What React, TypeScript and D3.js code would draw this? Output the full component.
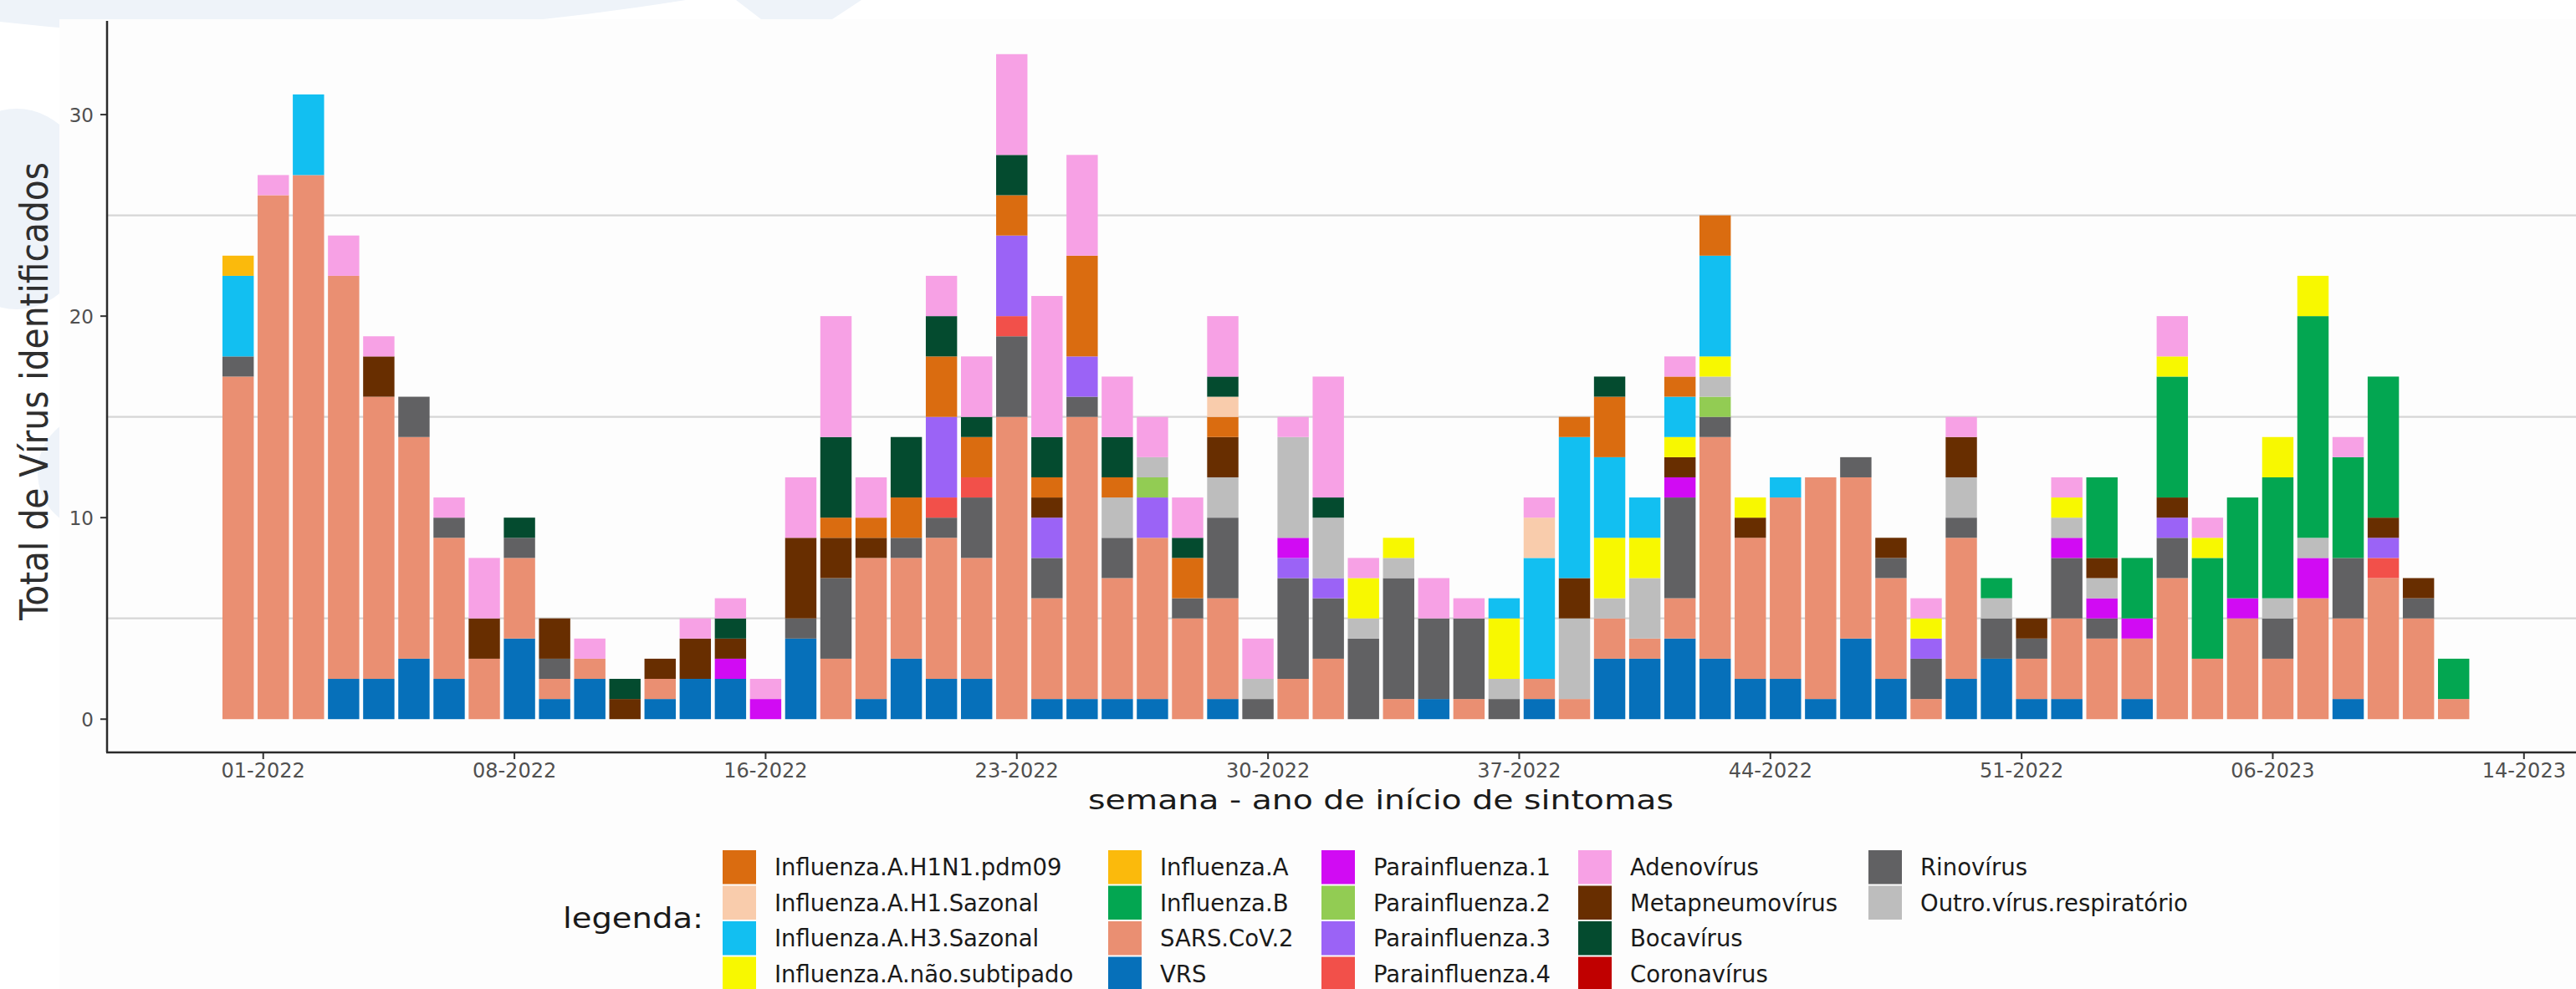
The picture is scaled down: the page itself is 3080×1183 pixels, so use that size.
import * as d3 from 'd3';
import { useEffect, useRef } from 'react';

// epidemiological weeks shown as bars
const weeks = [
  "01-2022", "02-2022", "03-2022", "04-2022", "05-2022", "06-2022", "07-2022", "08-2022",
  "09-2022", "10-2022", "11-2022", "12-2022", "13-2022", "14-2022", "15-2022", "16-2022",
  "17-2022", "18-2022", "19-2022", "20-2022", "21-2022", "22-2022", "23-2022", "24-2022",
  "25-2022", "26-2022", "27-2022", "28-2022", "29-2022", "30-2022", "31-2022", "32-2022",
  "33-2022", "34-2022", "35-2022", "36-2022", "37-2022", "38-2022", "39-2022", "40-2022",
  "41-2022", "42-2022", "43-2022", "44-2022", "45-2022", "46-2022", "47-2022", "48-2022",
  "49-2022", "50-2022", "51-2022", "52-2022", "01-2023", "02-2023", "03-2023", "04-2023",
  "05-2023", "06-2023", "07-2023", "08-2023", "09-2023", "10-2023", "11-2023", "12-2023",
];
const firstWeekStart = "2021-12-27";

const tickDates = [
  "2022-01-01", "2022-02-20", "2022-04-11", "2022-05-31", "2022-07-20",
  "2022-09-08", "2022-10-28", "2022-12-17", "2023-02-05", "2023-03-27",
];
const tickLabels = ["01-2022", "08-2022", "16-2022", "23-2022", "30-2022", "37-2022", "44-2022", "51-2022", "06-2023", "14-2023"];
const yTicks = [0, 10, 20, 30];
const yGrid = [5, 15, 25];

// counts per week, one array per virus
const VRS = [
  0, 0, 0, 2, 2, 3, 2, 0, 4, 1, 2, 0, 1, 2, 2, 0,
  4, 0, 1, 3, 2, 2, 0, 1, 1, 1, 1, 0, 1, 0, 0, 0,
  0, 0, 1, 0, 0, 1, 0, 3, 3, 4, 3, 2, 2, 1, 4, 2,
  0, 2, 3, 1, 1, 0, 1, 0, 0, 0, 0, 0, 1, 0, 0, 0,
];
const SARS = [
  17, 26, 27, 20, 14, 11, 7, 3, 4, 1, 1, 0, 1, 0, 0, 0,
  0, 3, 7, 5, 7, 6, 15, 5, 14, 6, 8, 5, 5, 0, 2, 3,
  0, 1, 0, 1, 0, 1, 1, 2, 1, 2, 11, 7, 9, 11, 8, 5,
  1, 7, 0, 2, 4, 4, 3, 7, 3, 5, 3, 6, 4, 7, 5, 1,
];
const Rino = [
  1, 0, 0, 0, 0, 2, 1, 0, 1, 1, 0, 0, 0, 0, 0, 0,
  1, 4, 0, 1, 1, 3, 4, 2, 1, 2, 0, 1, 4, 1, 5, 3,
  4, 6, 4, 4, 1, 0, 0, 0, 0, 5, 1, 0, 0, 0, 1, 1,
  2, 1, 2, 1, 3, 1, 0, 2, 0, 0, 2, 0, 3, 0, 1, 0,
];
const Para4 = [
  0, 0, 0, 0, 0, 0, 0, 0, 0, 0, 0, 0, 0, 0, 0, 0,
  0, 0, 0, 0, 1, 1, 1, 0, 0, 0, 0, 0, 0, 0, 0, 0,
  0, 0, 0, 0, 0, 0, 0, 0, 0, 0, 0, 0, 0, 0, 0, 0,
  0, 0, 0, 0, 0, 0, 0, 0, 0, 0, 0, 0, 0, 1, 0, 0,
];
const Para3 = [
  0, 0, 0, 0, 0, 0, 0, 0, 0, 0, 0, 0, 0, 0, 0, 0,
  0, 0, 0, 0, 4, 0, 4, 2, 2, 0, 2, 0, 0, 0, 1, 1,
  0, 0, 0, 0, 0, 0, 0, 0, 0, 0, 0, 0, 0, 0, 0, 0,
  1, 0, 0, 0, 0, 0, 0, 1, 0, 0, 0, 0, 0, 1, 0, 0,
];
const Para2 = [
  0, 0, 0, 0, 0, 0, 0, 0, 0, 0, 0, 0, 0, 0, 0, 0,
  0, 0, 0, 0, 0, 0, 0, 0, 0, 0, 1, 0, 0, 0, 0, 0,
  0, 0, 0, 0, 0, 0, 0, 0, 0, 0, 1, 0, 0, 0, 0, 0,
  0, 0, 0, 0, 0, 0, 0, 0, 0, 0, 0, 0, 0, 0, 0, 0,
];
const Para1 = [
  0, 0, 0, 0, 0, 0, 0, 0, 0, 0, 0, 0, 0, 0, 1, 1,
  0, 0, 0, 0, 0, 0, 0, 0, 0, 0, 0, 0, 0, 0, 1, 0,
  0, 0, 0, 0, 0, 0, 0, 0, 0, 1, 0, 0, 0, 0, 0, 0,
  0, 0, 0, 0, 1, 1, 1, 0, 0, 1, 0, 2, 0, 0, 0, 0,
];
const Outro = [
  0, 0, 0, 0, 0, 0, 0, 0, 0, 0, 0, 0, 0, 0, 0, 0,
  0, 0, 0, 0, 0, 0, 0, 0, 0, 2, 1, 0, 2, 1, 5, 3,
  1, 1, 0, 0, 1, 0, 4, 1, 3, 0, 1, 0, 0, 0, 0, 0,
  0, 2, 1, 0, 1, 1, 0, 0, 0, 0, 1, 1, 0, 0, 0, 0,
];
const Meta = [
  0, 0, 0, 0, 2, 0, 0, 2, 0, 2, 0, 1, 1, 2, 1, 0,
  4, 2, 1, 0, 0, 0, 0, 1, 0, 0, 0, 0, 2, 0, 0, 0,
  0, 0, 0, 0, 0, 0, 2, 0, 0, 1, 0, 1, 0, 0, 0, 1,
  0, 2, 0, 1, 0, 1, 0, 1, 0, 0, 0, 0, 0, 1, 1, 0,
];
const FluB = [
  0, 0, 0, 0, 0, 0, 0, 0, 0, 0, 0, 0, 0, 0, 0, 0,
  0, 0, 0, 0, 0, 0, 0, 0, 0, 0, 0, 0, 0, 0, 0, 0,
  0, 0, 0, 0, 0, 0, 0, 0, 0, 0, 0, 0, 0, 0, 0, 0,
  0, 0, 1, 0, 0, 4, 3, 6, 5, 5, 6, 11, 5, 7, 0, 2,
];
const NaoSub = [
  0, 0, 0, 0, 0, 0, 0, 0, 0, 0, 0, 0, 0, 0, 0, 0,
  0, 0, 0, 0, 0, 0, 0, 0, 0, 0, 0, 0, 0, 0, 0, 0,
  2, 1, 0, 0, 3, 0, 0, 3, 2, 1, 1, 1, 0, 0, 0, 0,
  1, 0, 0, 0, 1, 0, 0, 1, 1, 0, 2, 2, 0, 0, 0, 0,
];
const H3 = [
  4, 0, 4, 0, 0, 0, 0, 0, 0, 0, 0, 0, 0, 0, 0, 0,
  0, 0, 0, 0, 0, 0, 0, 0, 0, 0, 0, 0, 0, 0, 0, 0,
  0, 0, 0, 0, 1, 6, 7, 4, 2, 2, 5, 0, 1, 0, 0, 0,
  0, 0, 0, 0, 0, 0, 0, 0, 0, 0, 0, 0, 0, 0, 0, 0,
];
const H1N1 = [
  0, 0, 0, 0, 0, 0, 0, 0, 0, 0, 0, 0, 0, 0, 0, 0,
  0, 1, 1, 2, 3, 2, 2, 1, 5, 1, 0, 2, 1, 0, 0, 0,
  0, 0, 0, 0, 0, 0, 1, 3, 0, 1, 2, 0, 0, 0, 0, 0,
  0, 0, 0, 0, 0, 0, 0, 0, 0, 0, 0, 0, 0, 0, 0, 0,
];
const H1Saz = [
  0, 0, 0, 0, 0, 0, 0, 0, 0, 0, 0, 0, 0, 0, 0, 0,
  0, 0, 0, 0, 0, 0, 0, 0, 0, 0, 0, 0, 1, 0, 0, 0,
  0, 0, 0, 0, 0, 2, 0, 0, 0, 0, 0, 0, 0, 0, 0, 0,
  0, 0, 0, 0, 0, 0, 0, 0, 0, 0, 0, 0, 0, 0, 0, 0,
];
const FluA = [
  1, 0, 0, 0, 0, 0, 0, 0, 0, 0, 0, 0, 0, 0, 0, 0,
  0, 0, 0, 0, 0, 0, 0, 0, 0, 0, 0, 0, 0, 0, 0, 0,
  0, 0, 0, 0, 0, 0, 0, 0, 0, 0, 0, 0, 0, 0, 0, 0,
  0, 0, 0, 0, 0, 0, 0, 0, 0, 0, 0, 0, 0, 0, 0, 0,
];
const Corona = [
  0, 0, 0, 0, 0, 0, 0, 0, 0, 0, 0, 0, 0, 0, 0, 0,
  0, 0, 0, 0, 0, 0, 0, 0, 0, 0, 0, 0, 0, 0, 0, 0,
  0, 0, 0, 0, 0, 0, 0, 0, 0, 0, 0, 0, 0, 0, 0, 0,
  0, 0, 0, 0, 0, 0, 0, 0, 0, 0, 0, 0, 0, 0, 0, 0,
];
const Boca = [
  0, 0, 0, 0, 0, 0, 0, 0, 1, 0, 0, 1, 0, 0, 1, 0,
  0, 4, 0, 3, 2, 1, 2, 2, 0, 2, 0, 1, 1, 0, 0, 1,
  0, 0, 0, 0, 0, 0, 0, 1, 0, 0, 0, 0, 0, 0, 0, 0,
  0, 0, 0, 0, 0, 0, 0, 0, 0, 0, 0, 0, 0, 0, 0, 0,
];
const Adeno = [
  0, 1, 0, 2, 1, 0, 1, 3, 0, 0, 1, 0, 0, 1, 1, 1,
  3, 6, 2, 0, 2, 3, 5, 7, 5, 3, 2, 2, 3, 2, 1, 6,
  1, 0, 2, 1, 0, 1, 0, 0, 0, 1, 0, 0, 0, 0, 0, 0,
  1, 1, 0, 0, 1, 0, 0, 2, 1, 0, 0, 0, 1, 0, 0, 0,
];

// bottom -> top stacking order
const stackOrder = [
  "VRS", "SARS.CoV.2", "Rinovírus", "Parainfluenza.4", "Parainfluenza.3", "Parainfluenza.2",
  "Parainfluenza.1", "Outro.vírus.respiratório", "Metapneumovírus", "Influenza.B",
  "Influenza.A.não.subtipado", "Influenza.A.H3.Sazonal", "Influenza.A.H1N1.pdm09",
  "Influenza.A.H1.Sazonal", "Influenza.A", "Coronavírus", "Bocavírus", "Adenovírus",
];
const seriesValues: Record<string, number[]> = {
  "VRS": VRS, "SARS.CoV.2": SARS, "Rinovírus": Rino, "Parainfluenza.4": Para4,
  "Parainfluenza.3": Para3, "Parainfluenza.2": Para2, "Parainfluenza.1": Para1,
  "Outro.vírus.respiratório": Outro, "Metapneumovírus": Meta, "Influenza.B": FluB,
  "Influenza.A.não.subtipado": NaoSub, "Influenza.A.H3.Sazonal": H3,
  "Influenza.A.H1N1.pdm09": H1N1, "Influenza.A.H1.Sazonal": H1Saz, "Influenza.A": FluA,
  "Coronavírus": Corona, "Bocavírus": Boca, "Adenovírus": Adeno,
};
const legendOrder = [
  "Influenza.A.H1N1.pdm09", "Influenza.A.H1.Sazonal", "Influenza.A.H3.Sazonal", "Influenza.A.não.subtipado",
  "Influenza.A", "Influenza.B", "SARS.CoV.2", "VRS",
  "Parainfluenza.1", "Parainfluenza.2", "Parainfluenza.3", "Parainfluenza.4",
  "Adenovírus", "Metapneumovírus", "Bocavírus", "Coronavírus",
  "Rinovírus", "Outro.vírus.respiratório",
];
const colors: Record<string, string> = {
  "Influenza.A.H1N1.pdm09": "#DA6C10",
  "Influenza.A.H1.Sazonal": "#F9CCAC",
  "Influenza.A.H3.Sazonal": "#12BFF1",
  "Influenza.A.não.subtipado": "#F8F800",
  "Influenza.A": "#FBBA0C",
  "Influenza.B": "#03A651",
  "SARS.CoV.2": "#EA8F72",
  "VRS": "#0670BA",
  "Parainfluenza.1": "#D10BF3",
  "Parainfluenza.2": "#92CC53",
  "Parainfluenza.3": "#9B63F6",
  "Parainfluenza.4": "#F2504A",
  "Adenovírus": "#F7A1E5",
  "Metapneumovírus": "#682E00",
  "Bocavírus": "#044B2F",
  "Coronavírus": "#C00000",
  "Rinovírus": "#616163",
  "Outro.vírus.respiratório": "#BDBDBD",
};

export default function App() {
  const ref = useRef<SVGSVGElement | null>(null);

  useEffect(() => {
    const svg = d3.select(ref.current);
    const width = 3080;
    const height = 1183;
    const panel = { left: 128, top: 25, bottom: 900, right: 3080 };

    svg.selectAll("*").remove();
    svg.attr("width", width).attr("height", height);

    // slide background with faint decorations, then the plot image
    svg.append("rect").attr("width", width).attr("height", height).attr("fill", "#ffffff");
    const deco = svg.append("g").attr("fill", "#eef3f9");
    deco.append("path").attr("d", "M0,0 L0,26 Q380,70 820,0 Z");
    deco.append("path").attr("d", "M880,0 L1030,0 L995,23 L910,23 Z");
    deco.append("ellipse").attr("cx", 20).attr("cy", 250).attr("rx", 95).attr("ry", 120);
    deco.append("circle").attr("cx", 115).attr("cy", 565).attr("r", 70);
    svg.append("rect").attr("x", 71).attr("y", 23).attr("width", width - 71).attr("height", height - 23).attr("fill", "#fdfdfd");

    const first = d3.utcParse("%Y-%m-%d")(firstWeekStart)!;
    const weekDates = weeks.map((_, i) => d3.utcDay.offset(first, 7 * i));

    const table = weeks.map((w, i) => {
      const row: any = { week: w, date: weekDates[i] };
      stackOrder.forEach(k => { row[k] = seriesValues[k][i]; });
      return row;
    });
    const stacked = d3.stack<any>().keys(stackOrder)(table);
    const ymax = d3.max(table, r => d3.sum(stackOrder, k => r[k]))!;

    const x = d3.scaleUtc()
      .domain([weekDates[0], weekDates[weekDates.length - 1]])
      .range([284.7, 2933.7]);
    const pitch = x(weekDates[1]) - x(weekDates[0]);
    const bw = pitch * 0.89;

    const pad = ymax * 0.05;
    const y = d3.scaleLinear()
      .domain([-pad, ymax + pad])
      .range([panel.bottom, panel.top]);

    // grid
    svg.append("g")
      .selectAll("line")
      .data(yGrid)
      .join("line")
      .attr("x1", panel.left).attr("x2", panel.right)
      .attr("y1", d => y(d)).attr("y2", d => y(d))
      .attr("stroke", "#d6d6d6").attr("stroke-width", 2.2);

    // bars
    svg.append("g")
      .selectAll("g")
      .data(stacked)
      .join("g")
      .attr("fill", d => colors[d.key])
      .selectAll("rect")
      .data(d => d.filter(s => s[1] > s[0]))
      .join("rect")
      .attr("x", d => x(d.data.date) - bw / 2)
      .attr("width", bw)
      .attr("y", d => y(d[1]))
      .attr("height", d => y(d[0]) - y(d[1]));

    // axes
    const tickColor = "#505050";
    const yAxis = svg.append("g");
    yAxis.selectAll("line")
      .data(yTicks).join("line")
      .attr("x1", panel.left - 8).attr("x2", panel.left)
      .attr("y1", d => y(d)).attr("y2", d => y(d))
      .attr("stroke", "#333").attr("stroke-width", 2);
    yAxis.selectAll("text")
      .data(yTicks).join("text")
      .attr("x", panel.left - 16).attr("y", d => y(d) + 8.5)
      .attr("text-anchor", "end")
      .attr("font-family", "DejaVu Sans").attr("font-size", 23)
      .attr("fill", tickColor)
      .text(d => d);

    const parse = d3.utcParse("%Y-%m-%d");
    const xt = tickDates.map((d, i) => ({ date: parse(d)!, label: tickLabels[i] }));
    const xAxis = svg.append("g");
    xAxis.selectAll("line")
      .data(xt).join("line")
      .attr("x1", d => x(d.date)).attr("x2", d => x(d.date))
      .attr("y1", panel.bottom).attr("y2", panel.bottom + 8)
      .attr("stroke", "#333").attr("stroke-width", 2);
    xAxis.selectAll("text")
      .data(xt).join("text")
      .attr("x", d => x(d.date)).attr("y", 930)
      .attr("text-anchor", "middle")
      .attr("font-family", "DejaVu Sans").attr("font-size", 24)
      .attr("fill", tickColor)
      .text(d => d.label);

    svg.append("line")
      .attr("x1", panel.left).attr("x2", panel.left)
      .attr("y1", panel.top).attr("y2", panel.bottom)
      .attr("stroke", "#2b2b2b").attr("stroke-width", 2.5);
    svg.append("line")
      .attr("x1", panel.left - 1).attr("x2", panel.right)
      .attr("y1", panel.bottom).attr("y2", panel.bottom)
      .attr("stroke", "#2b2b2b").attr("stroke-width", 2.5);

    // titles
    svg.append("text")
      .attr("x", 1651).attr("y", 968)
      .attr("text-anchor", "middle")
      .attr("font-family", "DejaVu Sans").attr("font-size", 32)
      .attr("textLength", 700).attr("lengthAdjust", "spacingAndGlyphs")
      .attr("fill", "#1a1a1a")
      .text("semana - ano de início de sintomas");

    svg.append("text")
      .attr("transform", "translate(57,468) rotate(-90)")
      .attr("text-anchor", "middle")
      .attr("font-family", "'Liberation Sans Narrow', 'DejaVu Sans Condensed', 'Roboto', sans-serif")
      .attr("font-size", 46)
      .attr("textLength", 548).attr("lengthAdjust", "spacingAndGlyphs")
      .attr("fill", "#2e2e2e")
      .text("Total de Vírus identificados");

    // legend
    const colX = [864, 1325, 1580, 1887, 2234];
    const keyW = 40;
    const rowH = 42.5;
    const legTop = 1017;
    const legend = svg.append("g");
    legend.append("text")
      .attr("x", 673).attr("y", 1110)
      .attr("font-family", "DejaVu Sans").attr("font-size", 34)
      .attr("textLength", 168).attr("lengthAdjust", "spacingAndGlyphs")
      .attr("fill", "#1a1a1a")
      .text("legenda:");
    const items = legend.selectAll("g.item")
      .data(legendOrder)
      .join("g")
      .attr("class", "item")
      .attr("transform", (_, i) => `translate(${colX[Math.floor(i / 4)]},${legTop + (i % 4) * rowH})`);
    items.append("rect")
      .attr("width", keyW).attr("height", rowH - 2)
      .attr("fill", d => colors[d]);
    items.append("text")
      .attr("x", keyW + 22).attr("y", rowH / 2 + 9)
      .attr("font-family", "DejaVu Sans").attr("font-size", 27.5)
      .attr("fill", "#1a1a1a")
      .text(d => d);
  }, []);

  return <svg ref={ref} style={{ position: "absolute", left: 0, top: 0, display: "block" }}></svg>;
}
